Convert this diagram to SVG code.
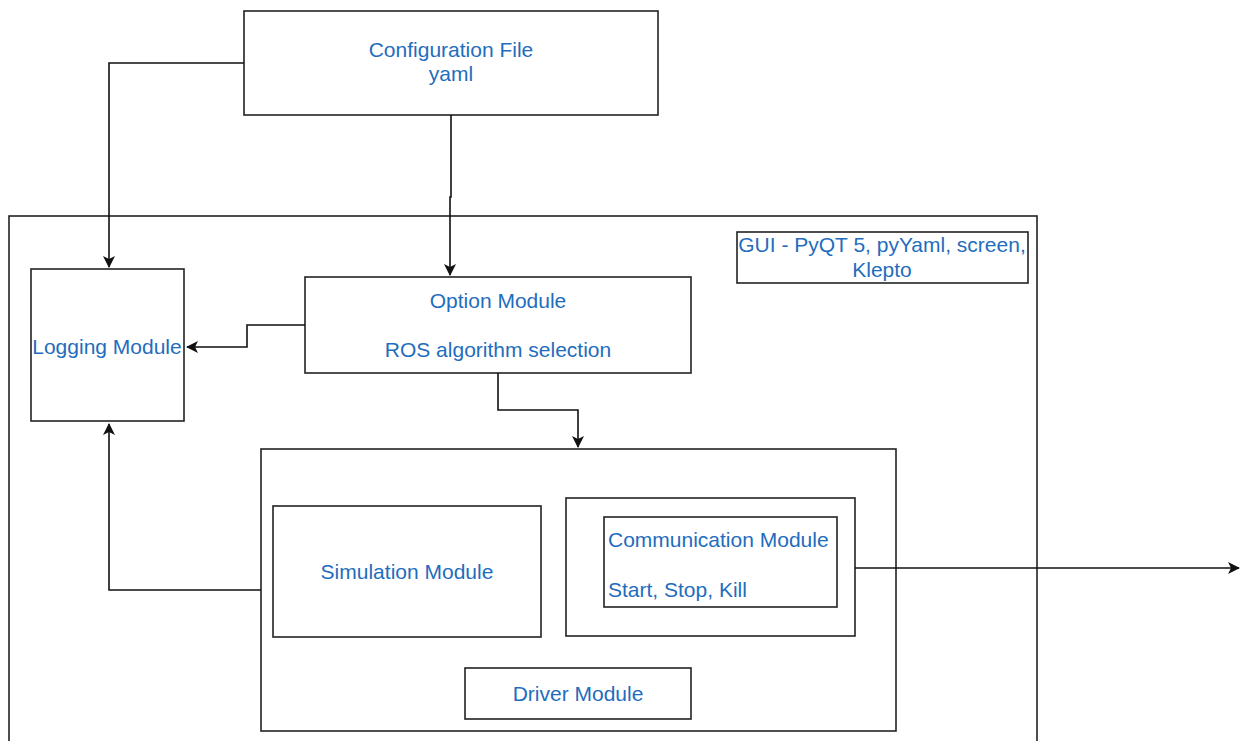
<svg xmlns="http://www.w3.org/2000/svg" width="1241" height="741" viewBox="0 0 1241 741">
<defs>
<style>
.box{fill:#fff;stroke:#222;stroke-width:1.6}
.frame{fill:none;stroke:#222;stroke-width:1.6}
.t{font-family:"Liberation Sans",Arial,sans-serif;font-size:21px;fill:#1f6dbd}
.c{text-anchor:middle}
.e{fill:none;stroke:#111;stroke-width:1.6}
</style>
<marker id="arr" viewBox="0 0 12 12" refX="11" refY="6" markerWidth="12" markerHeight="12" markerUnits="userSpaceOnUse" orient="auto">
<path d="M0,0 L12,6 L0,12 L3,6 Z" fill="#111"/>
</marker>
</defs>
<rect width="1241" height="741" fill="#fff"/>
<g id="gui">
<rect class="frame" x="9" y="216" width="1028" height="540"/>
</g>
<g id="gui-label">
<rect class="box" x="737" y="232" width="291" height="51"/>
<text class="t c" x="882" y="252">GUI - PyQT 5, pyYaml, screen,</text>
<text class="t c" x="882" y="277">Klepto</text>
</g>
<g id="config">
<rect class="box" x="244" y="11" width="414" height="104"/>
<text class="t c" x="451" y="57">Configuration File</text>
<text class="t c" x="451" y="81">yaml</text>
</g>
<g id="logging">
<rect class="box" x="31" y="269" width="153" height="152"/>
<text class="t c" x="107" y="354">Logging Module</text>
</g>
<g id="option">
<rect class="box" x="305" y="277" width="386" height="96"/>
<text class="t c" x="498" y="308">Option Module</text>
<text class="t c" x="498" y="357">ROS algorithm selection</text>
</g>
<g id="driver-container">
<rect class="box" x="261" y="449" width="635" height="282"/>
</g>
<g id="simulation">
<rect class="box" x="273" y="506" width="268" height="131"/>
<text class="t c" x="407" y="579">Simulation Module</text>
</g>
<g id="comm-outer">
<rect class="box" x="566" y="498" width="289" height="138"/>
</g>
<g id="comm">
<rect class="box" x="604" y="517" width="233" height="90"/>
<text class="t" x="608" y="547">Communication Module</text>
<text class="t" x="608" y="597">Start, Stop, Kill</text>
</g>
<g id="driver">
<rect class="box" x="465" y="668" width="226" height="51"/>
<text class="t c" x="578" y="701">Driver Module</text>
</g>
<g id="connectors">
<path class="e" d="M244,63 H109 V267" marker-end="url(#arr)"/>
<path class="e" d="M451,115 V197 H450 V275" marker-end="url(#arr)"/>
<path class="e" d="M305,325 H247 V347 H187" marker-end="url(#arr)"/>
<path class="e" d="M498,373 V410 H578 V447" marker-end="url(#arr)"/>
<path class="e" d="M261,590 H109 V424" marker-end="url(#arr)"/>
<path class="e" d="M855,568 H1239" marker-end="url(#arr)"/>
</g>
</svg>
